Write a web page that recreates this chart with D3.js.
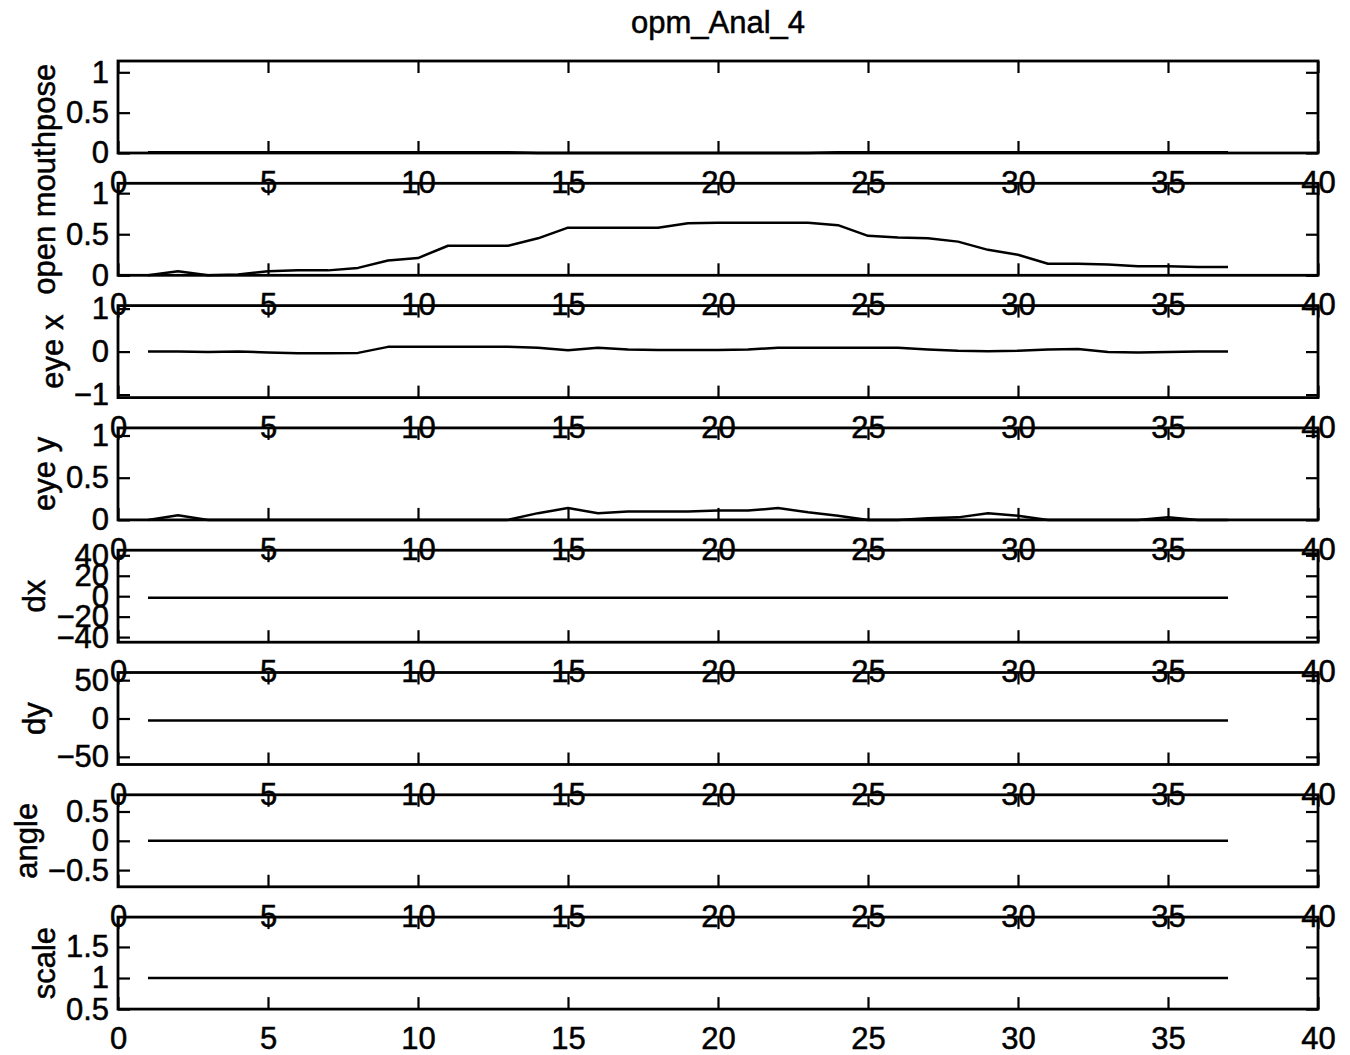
<!DOCTYPE html>
<html>
<head>
<meta charset="utf-8">
<script src="https://cdn.jsdelivr.net/npm/d3@7"></script>
<style>
  body { margin: 0; background: #fff; }
  text { font-family: "Liberation Sans", Arial, Helvetica, sans-serif; fill: #000; stroke: #000; stroke-width: 0.5px; }
</style>
</head>
<body>
<div id="chart"></div>
<script>
// frame numbers (x values)
var frames = [1, 2, 3, 4, 5, 6, 7, 8, 9, 10, 11, 12, 13, 14, 15, 16, 17, 18, 19, 20,
              21, 22, 23, 24, 25, 26, 27, 28, 29, 30, 31, 32, 33, 34, 35, 36, 37];

// one series per subplot
var mouthpose = [0.01, 0.01, 0.01, 0.01, 0.01, 0.01, 0.01, 0.01, 0.01, 0.01, 0.01, 0.01, 0.01, 0, 0,
                 0, 0, 0, 0, 0, 0, 0, 0, 0.01, 0.01, 0.01, 0.01, 0.01, 0.01, 0.01, 0.01, 0.01, 0.01,
                 0.01, 0.01, 0.01, 0.01];
var openMouthpose = [0, 0.05, 0, 0.01, 0.05, 0.06, 0.06, 0.09, 0.18, 0.21, 0.36, 0.36, 0.36, 0.45,
                     0.58, 0.58, 0.58, 0.58, 0.635, 0.64, 0.64, 0.64, 0.64, 0.61, 0.48, 0.46, 0.45,
                     0.41, 0.31, 0.25, 0.14, 0.14, 0.13, 0.11, 0.11, 0.10, 0.10];
var eyeX = [0, 0, -0.01, 0, -0.02, -0.04, -0.04, -0.03, 0.11, 0.11, 0.11, 0.11, 0.11, 0.09, 0.03,
            0.09, 0.05, 0.04, 0.04, 0.04, 0.05, 0.09, 0.09, 0.09, 0.09, 0.09, 0.05, 0.02, 0.01,
            0.02, 0.05, 0.06, -0.01, -0.02, -0.01, 0, 0];
var eyeY = [0, 0.055, 0, 0, 0, 0, 0, 0, 0, 0, 0, 0, 0, 0.08, 0.14, 0.08, 0.1, 0.1, 0.1, 0.11,
            0.11, 0.14, 0.09, 0.05, 0, 0, 0.02, 0.03, 0.08, 0.05, 0, 0, 0, 0, 0.03, 0, 0];
var dx = [-1.5, -1.5, -1.5, -1.5, -1.5, -1.5, -1.5, -1.5, -1.5, -1.5, -1.5, -1.5, -1.5, -1.5, -1.5,
          -1.5, -1.5, -1.5, -1.5, -1.5, -1.5, -1.5, -1.5, -1.5, -1.5, -1.5, -1.5, -1.5, -1.5, -1.5,
          -1.5, -1.5, -1.5, -1.5, -1.5, -1.5, -1.5];
var dy = [-2.5, -2.5, -2.5, -2.5, -2.5, -2.5, -2.5, -2.5, -2.5, -2.5, -2.5, -2.5, -2.5, -2.5, -2.5,
          -2.5, -2.5, -2.5, -2.5, -2.5, -2.5, -2.5, -2.5, -2.5, -2.5, -2.5, -2.5, -2.5, -2.5, -2.5,
          -2.5, -2.5, -2.5, -2.5, -2.5, -2.5, -2.5];
var angle = [0, 0, 0, 0, 0, 0, 0, 0, 0, 0, 0, 0, 0, 0, 0, 0, 0, 0, 0, 0,
             0, 0, 0, 0, 0, 0, 0, 0, 0, 0, 0, 0, 0, 0, 0, 0, 0];
var scale = [1, 1, 1, 1, 1, 1, 1, 1, 1, 1, 1, 1, 1, 1, 1, 1, 1, 1, 1, 1,
             1, 1, 1, 1, 1, 1, 1, 1, 1, 1, 1, 1, 1, 1, 1, 1, 1];

// tick values
var xTicks = [0, 5, 10, 15, 20, 25, 30, 35, 40];
var unitTicks = [0, 0.5, 1];
var eyeXTicks = [-1, 0, 1];
var dxTicks = [-40, -20, 0, 20, 40];
var dyTicks = [-50, 0, 50];
var angleTicks = [-0.5, 0, 0.5];
var scaleTicks = [0.5, 1, 1.5];

var panels = [
    {label: "",               values: mouthpose,     domain: [0, 1.14],        ticks: unitTicks},
    {label: "open mouthpose", values: openMouthpose, domain: [0, 1.12],        ticks: unitTicks},
    {label: "eye x",          values: eyeX,          domain: [-1.07, 1.07],    ticks: eyeXTicks},
    {label: "eye y",          values: eyeY,          domain: [0, 1.09],        ticks: unitTicks},
    {label: "dx",             values: dx,            domain: [-45, 45],        ticks: dxTicks},
    {label: "dy",             values: dy,            domain: [-60, 60],        ticks: dyTicks},
    {label: "angle",          values: angle,         domain: [-0.785, 0.785],  ticks: angleTicks},
    {label: "scale",          values: scale,         domain: [0.5, 1.98],      ticks: scaleTicks}
];

var width = 1350, height = 1055;
var left = 118, right = 1318;
var firstTop = 61, step = 122.3, panelH = 92;
var fontSize = 31;

var svg = d3.select("#chart").append("svg")
    .attr("width", width)
    .attr("height", height);

svg.append("rect").attr("width", width).attr("height", height).attr("fill", "#fff");

var x = d3.scaleLinear().domain([0, 40]).range([left, right]);

// title
svg.append("text")
    .attr("x", (left + right) / 2)
    .attr("y", 22)
    .attr("dy", "0.35em")
    .attr("text-anchor", "middle")
    .style("font-size", fontSize + "px")
    .text("opm_Anal_4");

function fmt(v) { return d3.format("")(v); }

panels.forEach(function(p, i) {
    var top = firstTop + i * step;
    var bottom = top + panelH;
    var y = d3.scaleLinear().domain(p.domain).range([bottom, top]);
    var g = svg.append("g");

    // data line
    var line = d3.line()
        .x(function(d, j) { return x(frames[j]); })
        .y(function(d) { return y(d); });
    g.append("path")
        .datum(p.values)
        .attr("fill", "none")
        .attr("stroke", "#000")
        .attr("stroke-width", 2.5)
        .attr("stroke-linejoin", "round")
        .attr("d", line);

    // bottom axis with labels, ticks pointing inward
    var xb = g.append("g")
        .attr("transform", "translate(0," + bottom + ")")
        .call(d3.axisBottom(x).tickValues(xTicks).tickFormat(fmt)
            .tickSizeInner(-12).tickSizeOuter(0).tickPadding(18));
    var xt = g.append("g")
        .attr("transform", "translate(0," + top + ")")
        .call(d3.axisTop(x).tickValues(xTicks).tickFormat("")
            .tickSizeInner(-12).tickSizeOuter(0));
    var yl = g.append("g")
        .attr("transform", "translate(" + left + ",0)")
        .call(d3.axisLeft(y).tickValues(p.ticks).tickFormat(fmt)
            .tickSizeInner(-12).tickSizeOuter(0).tickPadding(9));
    var yr = g.append("g")
        .attr("transform", "translate(" + right + ",0)")
        .call(d3.axisRight(y).tickValues(p.ticks).tickFormat("")
            .tickSizeInner(-12).tickSizeOuter(0));

    [xb, xt, yl, yr].forEach(function(a) {
        a.select(".domain").remove();
        a.selectAll(".tick line").attr("stroke", "#000").attr("stroke-width", 2.2);
        a.selectAll("text")
            .style("font-size", fontSize + "px")
            .style("font-family", "'Liberation Sans', Arial, Helvetica, sans-serif")
            .attr("fill", "#000");
    });

    // box
    g.append("rect")
        .attr("x", left)
        .attr("y", top)
        .attr("width", right - left)
        .attr("height", panelH)
        .attr("fill", "none")
        .attr("stroke", "#000")
        .attr("stroke-width", 2.8);

    // y label, placed left of the widest tick label
    if (p.label) {
        var minX = d3.min(yl.selectAll("text").nodes(), function(n) { return n.getBBox().x; }) + left;
        // the reference draws the long "open mouthpose" label raised above its own panel
        var cy = i === 1 ? (top + bottom) / 2 - 50 : (top + bottom) / 2;
        svg.append("text")
            .attr("transform", "translate(" + (minX - 11) + "," + cy + ") rotate(-90)")
            .attr("text-anchor", "middle")
            .style("font-size", fontSize + "px")
            .text(p.label);
    }
});
</script>
</body>
</html>
